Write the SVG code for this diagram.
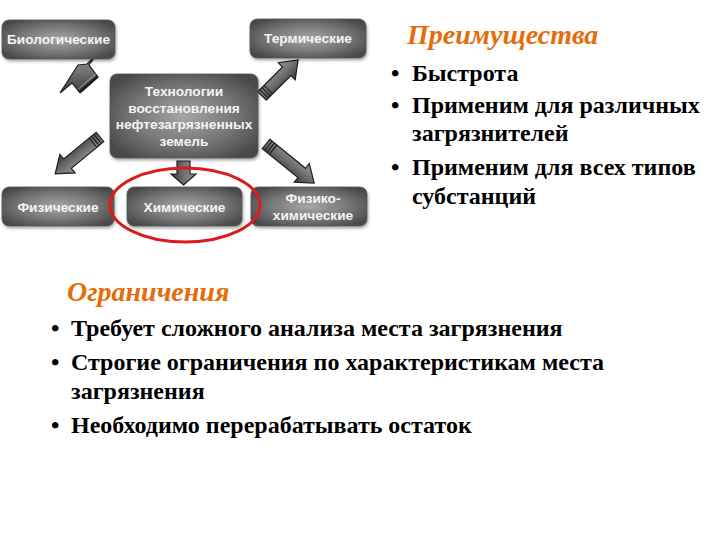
<svg xmlns="http://www.w3.org/2000/svg" width="720" height="540" viewBox="0 0 720 540">
<defs>
<radialGradient id="boxg" cx="0.5" cy="0.5" r="0.6">
<stop offset="0" stop-color="#a6a6a6"/>
<stop offset="0.6" stop-color="#747474"/>
<stop offset="1" stop-color="#4a4a4a"/>
</radialGradient>
<linearGradient id="arrg" x1="0" y1="0" x2="0" y2="1">
<stop offset="0" stop-color="#9a9a9a"/>
<stop offset="0.5" stop-color="#6e6e6e"/>
<stop offset="1" stop-color="#3a3a3a"/>
</linearGradient>
<filter id="sh" x="-10%" y="-10%" width="125%" height="130%">
<feGaussianBlur in="SourceAlpha" stdDeviation="1.5"/>
<feOffset dx="1" dy="2" result="b"/>
<feComponentTransfer><feFuncA type="linear" slope="0.35"/></feComponentTransfer>
<feMerge><feMergeNode/><feMergeNode in="SourceGraphic"/></feMerge>
</filter>
</defs>
<style>
.box{fill:url(#boxg);stroke:#555;stroke-width:0.8;filter:url(#sh)}
.bt{font-family:"Liberation Sans",Arial,sans-serif;font-weight:bold;font-size:13.7px;fill:#f4f4f4;text-anchor:middle}
.arr{fill:url(#arrg);stroke:#1e1e1e;stroke-width:1.2;stroke-linejoin:miter}
.str{stroke:#1e1e1e;stroke-width:1.2;fill:none}
.hd{font-family:"Liberation Serif","Times New Roman",serif;font-weight:bold;font-style:italic;font-size:28px;fill:#e46c0a}
.tx{font-family:"Liberation Serif","Times New Roman",serif;font-weight:bold;font-size:24px;fill:#000}
</style>
<rect width="720" height="540" fill="#fff"/>

<g id="connectors">
<g id="arr-bio">
<polygon class="arr" points="98,53 87,64 78,65 60,93 72,83 80,93 98,77 89,65"/>
<line x1="80.5" y1="91.5" x2="97.5" y2="76.5" stroke="#1e1e1e" stroke-width="3"/>
<line x1="78.5" y1="89" x2="95.5" y2="74" stroke="#bbb" stroke-width="0.8"/>
</g>
<g id="arr-term" transform="translate(262,96) rotate(-45)">
<path class="arr" d="M0,-6 L35,-6 L35,-12 L51,0 L35,12 L35,6 L0,6 Z"/>
<path class="str" d="M3,-6V6M6,-6V6M9,-6V6"/>
</g>
<g id="arr-phys" transform="translate(100,137) rotate(140.6)">
<path class="arr" d="M0,-6 L42,-6 L42,-12 L58,0 L42,12 L42,6 L0,6 Z"/>
<path class="str" d="M3,-6V6M6,-6V6M9,-6V6"/>
</g>
<g id="arr-physchem" transform="translate(266,144) rotate(39)">
<path class="arr" d="M0,-6 L46,-6 L46,-12 L62,0 L46,12 L46,6 L0,6 Z"/>
<path class="str" d="M3,-6V6M6,-6V6M9,-6V6"/>
</g>
<g id="arr-chem" transform="translate(183.5,161) rotate(90)">
<path class="arr" d="M0,-6.5 L13,-6.5 L13,-12.5 L24,0 L13,12.5 L13,6.5 L0,6.5 Z"/>
</g>
</g>

<g id="node-center">
<rect class="box" x="110" y="74" width="148" height="84" rx="7"/>
<text class="bt" x="184" y="96">Технологии</text>
<text class="bt" x="184" y="112.5">восстановления</text>
<text class="bt" x="184" y="129">нефтезагрязненных</text>
<text class="bt" x="184" y="146">земель</text>
</g>
<g id="node-bio">
<rect class="box" x="2" y="20" width="113" height="39" rx="7"/>
<text class="bt" x="58.5" y="44">Биологические</text>
</g>
<g id="node-term">
<rect class="box" x="250" y="19" width="116" height="39" rx="7"/>
<text class="bt" x="308" y="43">Термические</text>
</g>
<g id="node-phys">
<rect class="box" x="2" y="187" width="112" height="39" rx="7"/>
<text class="bt" x="58" y="212">Физические</text>
</g>
<g id="node-chem">
<rect class="box" x="127" y="187" width="115" height="39" rx="7"/>
<text class="bt" x="184.5" y="212">Химические</text>
</g>
<g id="node-physchem">
<rect class="box" x="251" y="187" width="116" height="39" rx="7"/>
<text class="bt" x="313" y="203">Физико-</text>
<text class="bt" x="313" y="220">химические</text>
</g>

<ellipse id="highlight" cx="185" cy="205" rx="75" ry="37" fill="none" stroke="#d91c1c" stroke-width="3"/>

<g id="advantages">
<text class="hd" x="407" y="44">Преимущества</text>
<text class="tx" x="391" y="81">•</text>
<text class="tx" x="412" y="81">Быстрота</text>
<text class="tx" x="391" y="113">•</text>
<text class="tx" x="412" y="113">Применим для различных</text>
<text class="tx" x="412" y="141">загрязнителей</text>
<text class="tx" x="391" y="175">•</text>
<text class="tx" x="412" y="175">Применим для всех типов</text>
<text class="tx" x="412" y="204">субстанций</text>
</g>

<g id="limitations">
<text class="hd" x="67" y="301">Ограничения</text>
<text class="tx" x="51" y="336">•</text>
<text class="tx" x="71" y="336">Требует сложного анализа места загрязнения</text>
<text class="tx" x="51" y="370">•</text>
<text class="tx" x="71" y="370">Строгие ограничения по характеристикам места</text>
<text class="tx" x="71" y="399">загрязнения</text>
<text class="tx" x="51" y="433">•</text>
<text class="tx" x="71" y="433">Необходимо перерабатывать остаток</text>
</g>
</svg>
